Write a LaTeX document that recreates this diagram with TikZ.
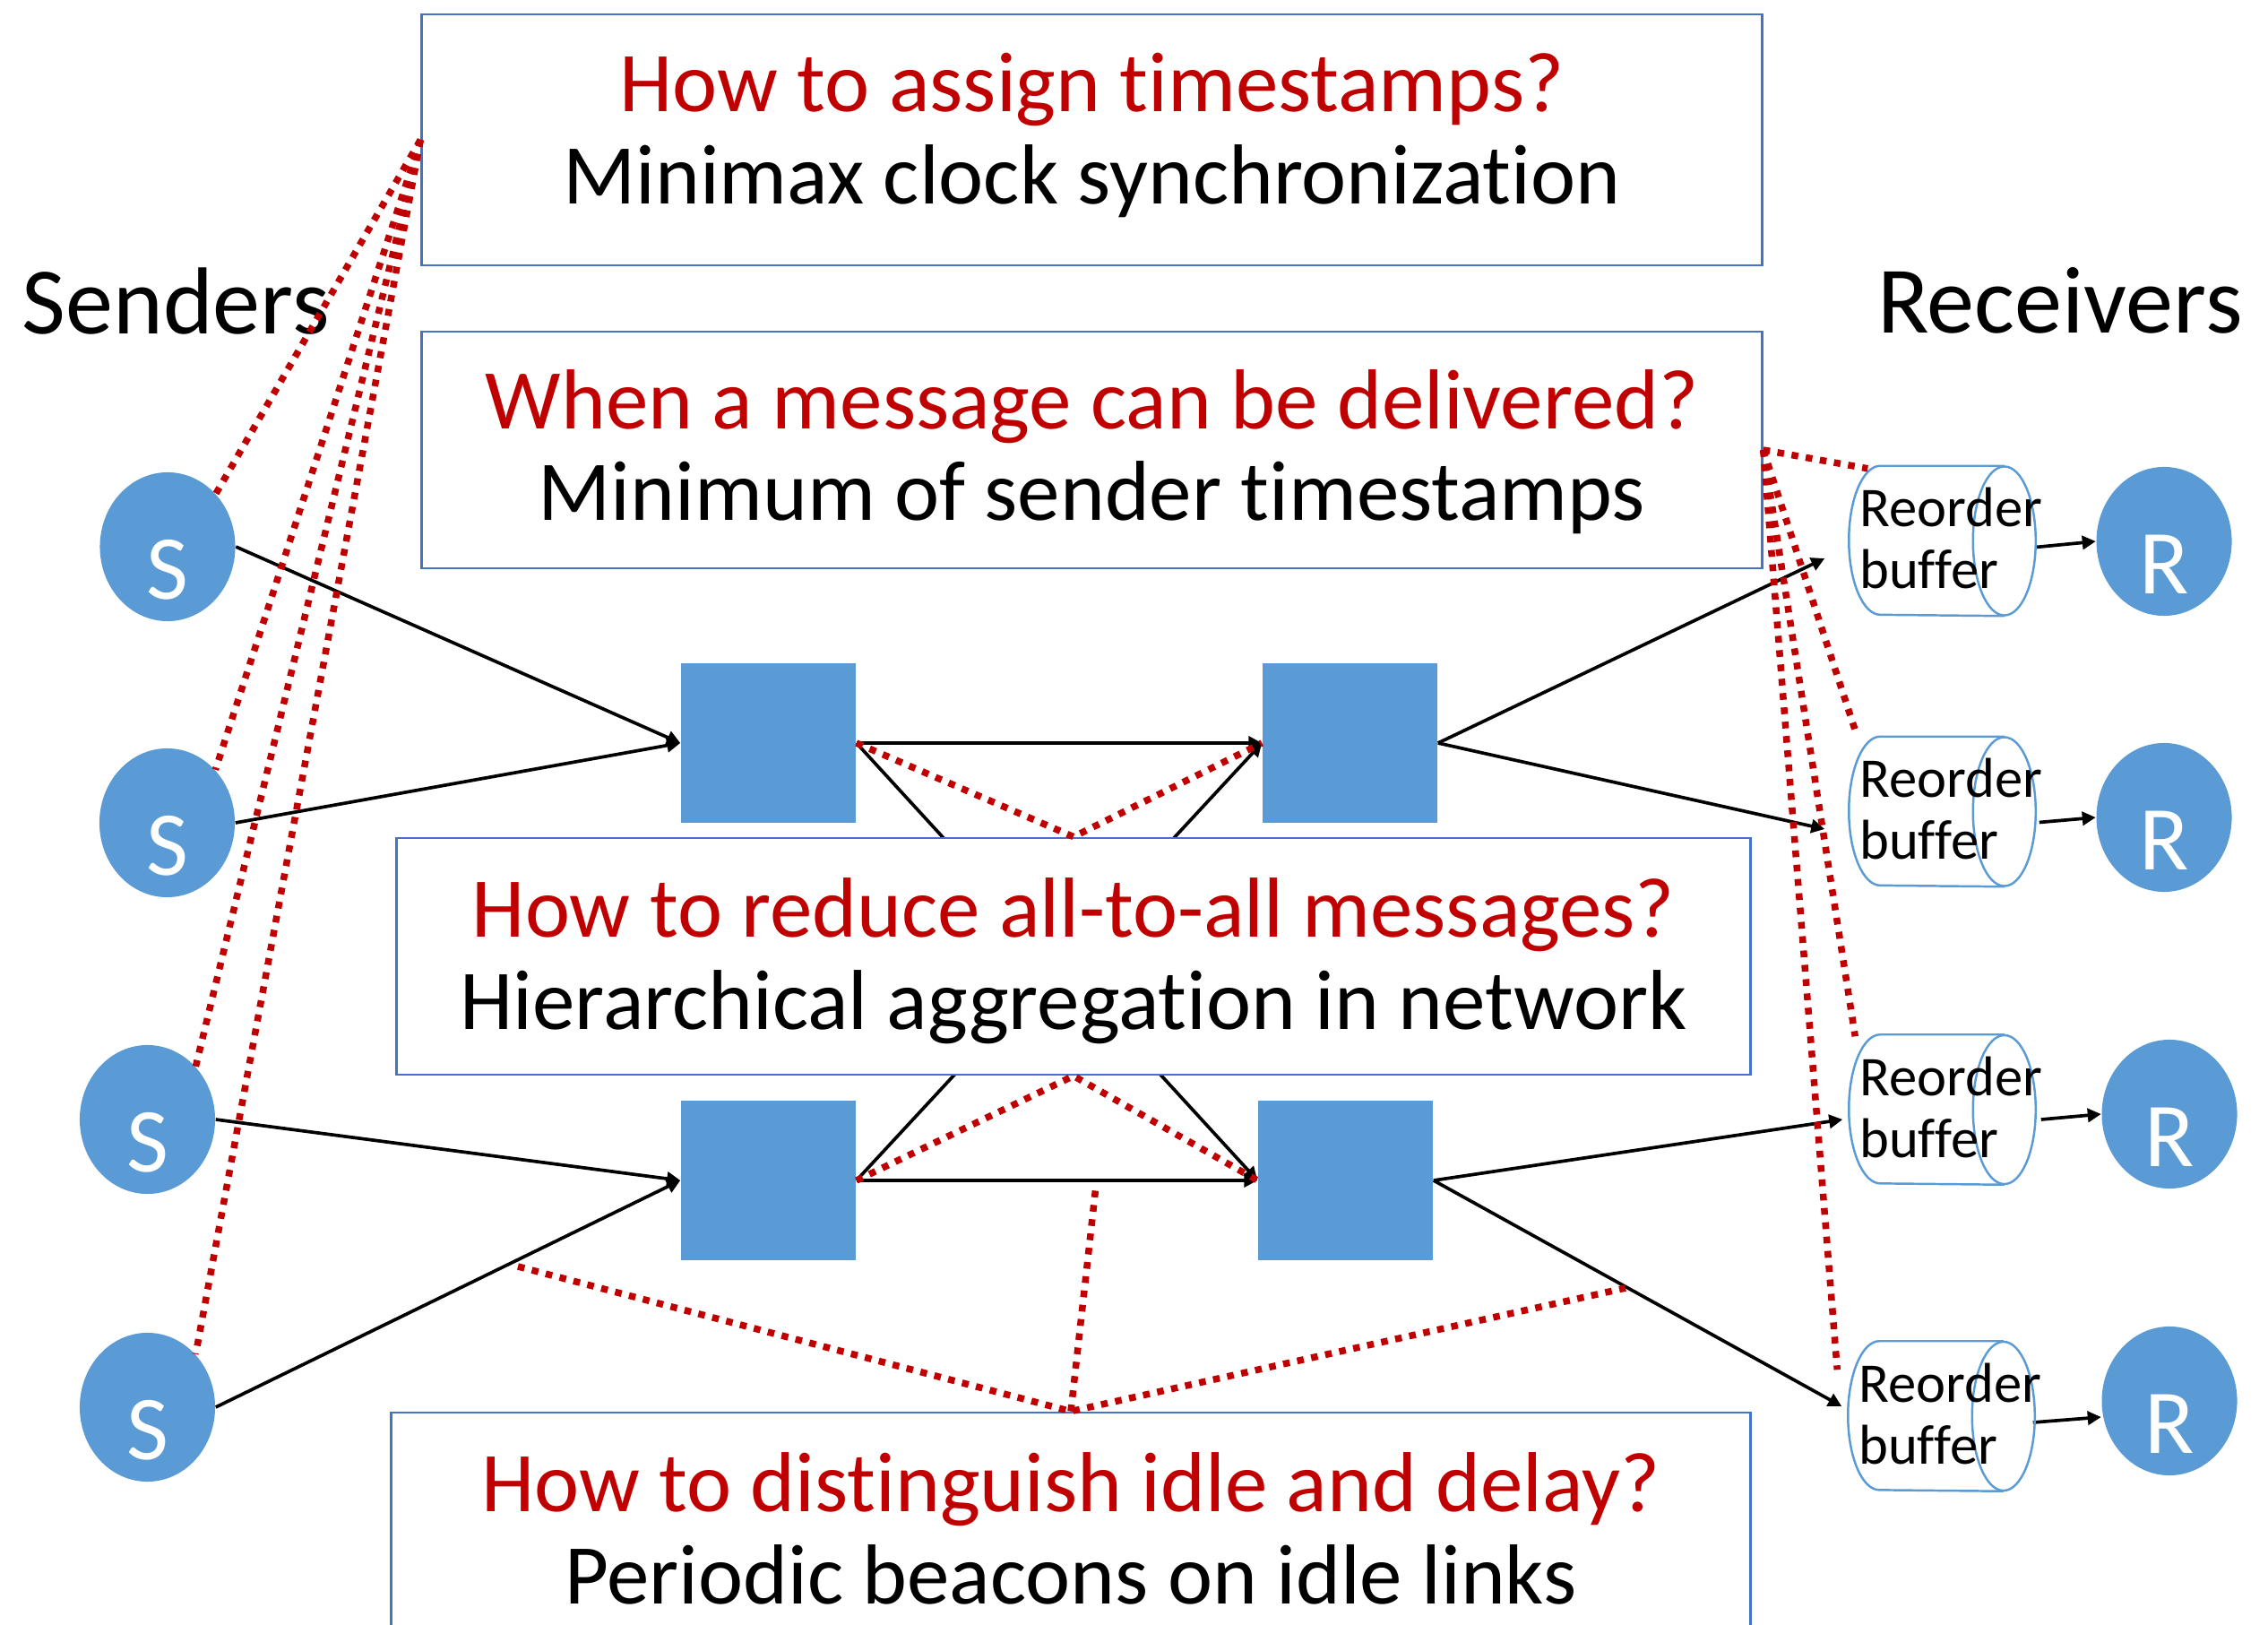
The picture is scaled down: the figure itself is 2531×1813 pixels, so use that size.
\documentclass[tikz,border=0pt]{standalone}
\usepackage{fontspec}
\setmainfont{Carlito}[Ligatures={NoCommon}]
\usetikzlibrary{arrows.meta,shapes.geometric,backgrounds}
\definecolor{nodeblue}{HTML}{5B9BD5}
\definecolor{boxblue}{HTML}{4472C4}
\definecolor{qred}{HTML}{C00000}
\tikzset{
  host/.style={shape=ellipse, fill=nodeblue, draw=none, inner sep=0pt,
    minimum width=1.51cm, minimum height=1.66cm},
  hostlabel/.style={text=white, inner sep=0pt, font=\fontsize{29}{34}\selectfont},
  switchbox/.style={fill=nodeblue, draw=none, inner sep=0pt,
    minimum width=1.95cm, minimum height=1.78cm},
  qbox/.style={draw=boxblue, fill=white, line width=0.75pt, inner sep=0pt},
  question/.style={text=qred, anchor=base, inner sep=0pt, font=\fontsize{27}{32}\selectfont},
  answer/.style={text=black, anchor=base, inner sep=0pt, font=\fontsize{27}{32}\selectfont},
  sidetitle/.style={inner sep=0pt, font=\fontsize{30.2}{36}\selectfont},
  bufbody/.style={inner sep=0pt, minimum width=1.37cm, minimum height=1.66cm},
  bufline/.style={draw=nodeblue, line width=0.7pt},
  buftext/.style={anchor=base west, inner sep=0pt, font=\fontsize{17.8}{21}\selectfont},
  link/.style={draw=black, line width=1.05pt, -{Triangle[length=0.15cm,width=0.15cm]}},
  hint/.style={draw=qred, line width=0.075cm, dash pattern=on 0.075cm off 0.085cm},
}
\newcommand{\reorderbuf}[2]{% name, centre
  \node[bufbody] (#1) at (#2) {};
  \draw[bufline] (#1.north east) -- (#1.north west)
    arc[start angle=90, end angle=270, x radius=0.35cm, y radius=0.83cm]
    -- (#1.south east);
  \draw[bufline] (#1.east) ellipse[x radius=0.35cm, y radius=0.83cm];
  \node[buftext] (#1top) at ([shift={(-93,-16)}]#1.center) {Reorder};
  \node[buftext] (#1bot) at ([shift={(-93,53)}]#1.center) {buffer};
}
\begin{document}
\begin{tikzpicture}[x=0.01cm, y=-0.01cm]
\useasboundingbox (0,0) rectangle (2531,1813);
\clip (0,0) rectangle (2531,1813);

% column titles
\node[sidetitle, anchor=base west] (senders) at (24,373) {Senders};
\node[sidetitle, anchor=base east] (receivers) at (2503,372) {Receivers};

% senders
\node[host] (s1) at (187,610) {};
\node[host] (s2) at (186.5,918) {};
\node[host] (s3) at (164.5,1249) {};
\node[host] (s4) at (164.5,1570) {};
\foreach \n in {1,...,4}
  \node[hostlabel] (s\n t) at ([shift={(0,26)}]s\n.center) {S};

% switches
\node[switchbox] (sw1) at (857.5,829) {};
\node[switchbox] (sw2) at (1506.5,829) {};
\node[switchbox] (sw3) at (857.5,1317) {};
\node[switchbox] (sw4) at (1501.5,1317) {};

% reorder buffers
\reorderbuf{b1}{2167.5,603.5}
\reorderbuf{b2}{2167.5,905.5}
\reorderbuf{b3}{2167.5,1238}
\reorderbuf{b4}{2166.5,1580}

% receivers
\node[host] (r1) at (2415,604) {};
\node[host] (r2) at (2415,912) {};
\node[host] (r3) at (2421,1243) {};
\node[host] (r4) at (2421,1563) {};
\foreach \n in {1,...,4}
  \node[hostlabel] (r\n t) at ([shift={(0,26)}]r\n.center) {R};

% question boxes
\node[qbox, minimum width=14.95cm, minimum height=2.80cm] (box1) at (1218.5,156) {};
\node[question] (q1) at (1218.5,124.5) {How to assign timestamps?};
\node[answer] (a1) at (1218.5,227.5) {Minimax clock synchronization};

\node[qbox, minimum width=14.95cm, minimum height=2.64cm] (box2) at (1218.5,502) {};
\node[question] (q2) at (1218.5,478.5) {When a message can be delivered?};
\node[answer] (a2) at (1218.5,581) {Minimum of sender timestamps};

\node[qbox, minimum width=15.10cm, minimum height=2.64cm] (box3) at (1198,1067) {};
\node[question] (q3) at (1198,1045) {How to reduce all-to-all messages?};
\node[answer] (a3) at (1198,1148) {Hierarchical aggregation in network};

\node[qbox, minimum width=15.16cm, minimum height=3.30cm] (box4) at (1195,1741) {};
\node[question] (q4) at (1195,1686) {How to distinguish idle and delay?};
\node[answer] (a4) at (1195,1789) {Periodic beacons on idle links};

% data paths, kept behind the boxes
\begin{pgfonlayer}{background}
\draw[link] (s1.east) -- (sw1.west);
\draw[link] (s2.east) -- (sw1.west);
\draw[link] (s3.east) -- (sw3.west);
\draw[link] (s4.east) -- (sw3.west);
\draw[link] (sw1.east) -- (sw2.west);
\draw[link] (sw3.east) -- (sw4.west);
\draw[link] (sw1.east) -- (sw4.west);
\draw[link] (sw3.east) -- (sw2.west);
\draw[link] (sw2.east) -- ([shift={(-62,19.5)}]b1.west);
\draw[link] (sw2.east) -- ([shift={(-62,19.5)}]b2.west);
\draw[link] (sw4.east) -- ([shift={(-42,11)}]b3.west);
\draw[link] (sw4.east) -- ([shift={(-42,-11)}]b4.west);
\draw[link] ([shift={(35,7)}]b1.east) -- (r1.west);
\draw[link] ([shift={(39,12)}]b2.east) -- (r2.west);
\draw[link] ([shift={(41,11)}]b3.east) -- (r3.west);
\draw[link] ([shift={(33,7)}]b4.east) -- ([shift={(0,18)}]r4.west);
\end{pgfonlayer}

% where each question applies
\draw[hint] (box1.west) -- (s1.north east);
\draw[hint] (box1.west) -- (s2.north east);
\draw[hint] (box1.west) -- (s3.north east);
\draw[hint] (box1.west) -- (s4.north east);

\draw[hint] (box2.east) -- ([shift={(-14,3)}]b1.north west);
\draw[hint] (box2.east) -- ([shift={(-26,-1)}]b2.north west);
\draw[hint] (box2.east) -- ([shift={(-28,2)}]b3.north west);
\draw[hint] (box2.east) -- ([shift={(-47,32)}]b4.north west);

\draw[hint] (sw1.east) -- (box3.north) -- (sw2.west);
\draw[hint] (sw3.east) -- (box3.south) -- (sw4.west);

\coordinate (idleA) at (578,1413);
\coordinate (idleB) at (1223,1323);
\coordinate (idleC) at (1814,1437);
\draw[hint] (idleA) -- (box4.north) -- (idleC);
\draw[hint] (box4.north) -- (idleB);
\end{tikzpicture}
\end{document}
